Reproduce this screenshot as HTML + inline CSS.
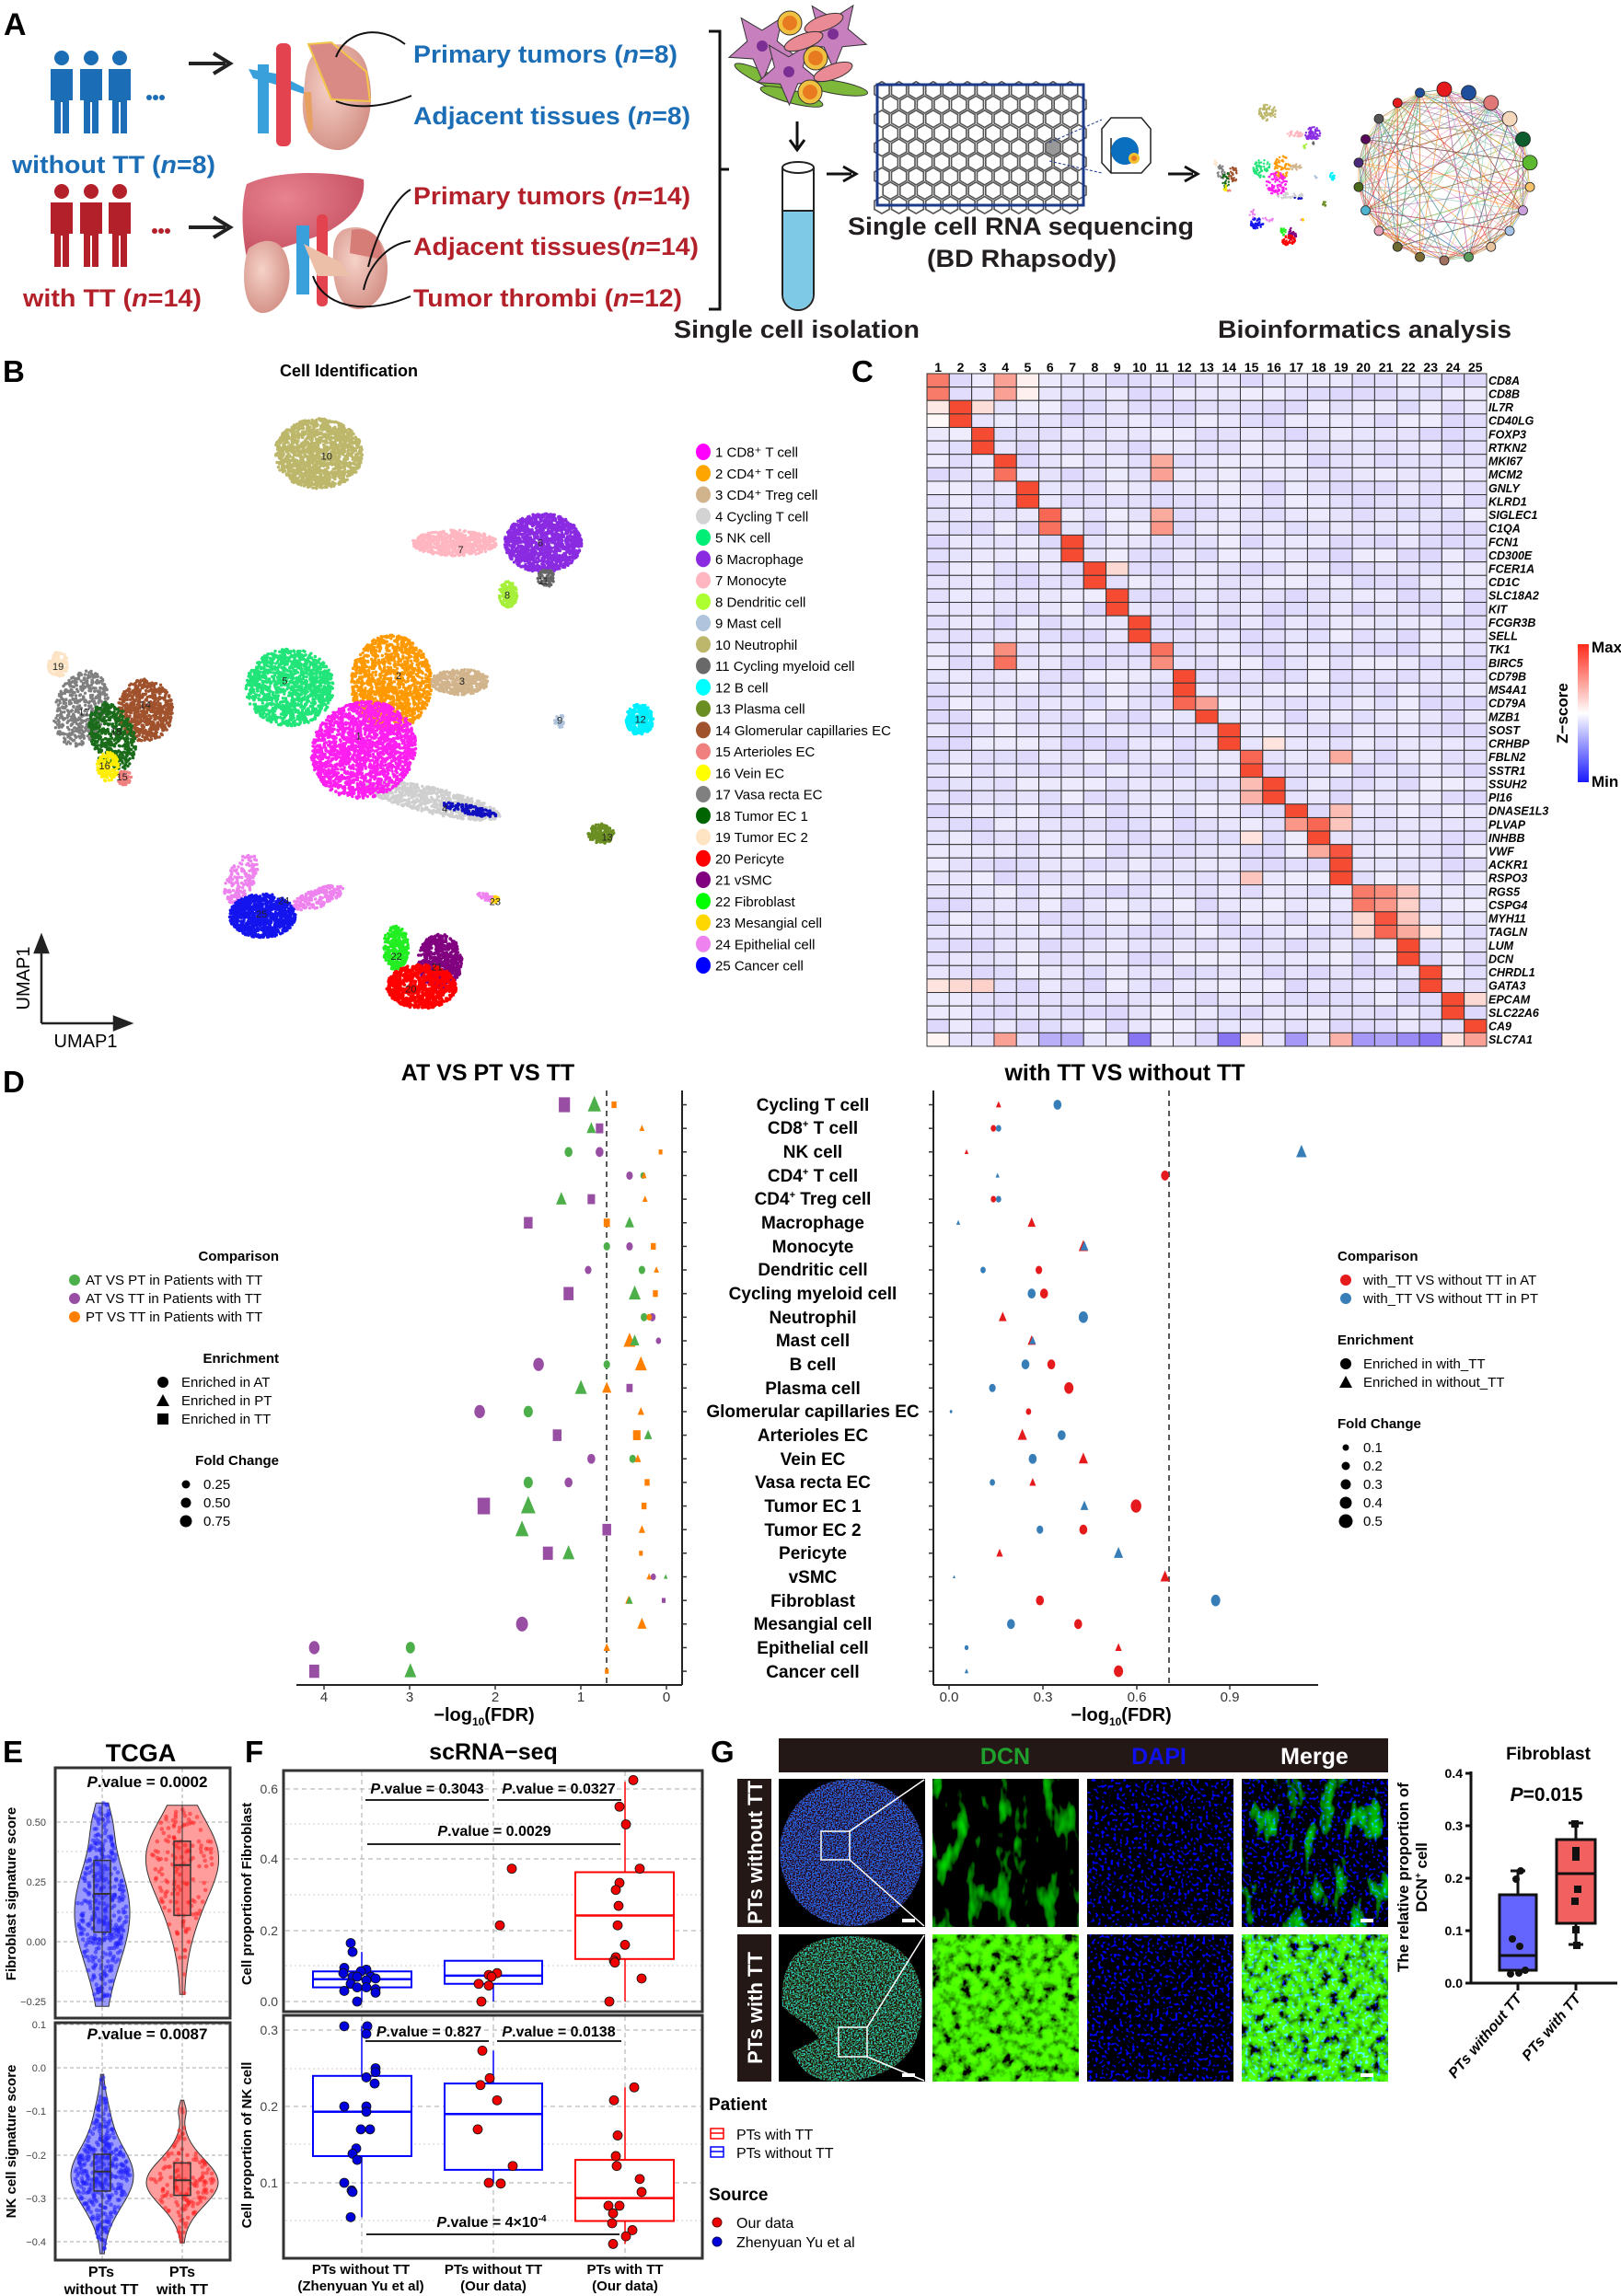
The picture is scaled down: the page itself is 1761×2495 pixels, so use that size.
<!DOCTYPE html>
<html><head><meta charset="utf-8"><style>
html,body{margin:0;padding:0;background:#fff}
svg{display:block;font-family:"Liberation Sans",Arial,sans-serif}
.b{font-weight:bold}
</style></head><body>
<svg id="s" xmlns="http://www.w3.org/2000/svg" width="1761" height="2495" viewBox="0 0 1761 2495">
<defs>
<filter id="fdapi" x="0" y="0" width="100%" height="100%"><feTurbulence type="fractalNoise" baseFrequency="0.3" numOctaves="1" seed="3"/><feColorMatrix type="matrix" values="0 0 0 0 0  0 0 0 0 0  9 0 0 0 -5.2  0 0 0 0 1"/></filter>
<filter id="fdcn1" x="0" y="0" width="100%" height="100%"><feTurbulence type="fractalNoise" baseFrequency="0.06 0.025" numOctaves="3" seed="5"/><feColorMatrix type="matrix" values="0 0 0 0 0  2.2 0 0 0 -1.25  0 0 0 0 0  0 0 0 0 1"/></filter>
<filter id="fdcn2" x="0" y="0" width="100%" height="100%"><feTurbulence type="fractalNoise" baseFrequency="0.09" numOctaves="3" seed="9"/><feColorMatrix type="matrix" values="0.2 0 0 0 -0.05  3.2 0 0 0 -0.85  0 0 0 0 0  0 0 0 0 1"/></filter>
<filter id="fm1" x="0" y="0" width="100%" height="100%"><feTurbulence type="fractalNoise" baseFrequency="0.3" numOctaves="1" seed="3" result="n1"/><feTurbulence type="fractalNoise" baseFrequency="0.06 0.025" numOctaves="3" seed="5" result="n2"/><feColorMatrix in="n1" type="matrix" values="0 0 0 0 0  0 0 0 0 0  9 0 0 0 -5.2  0 0 0 0 1" result="b"/><feColorMatrix in="n2" type="matrix" values="0 0 0 0 0  2.2 0 0 0 -1.25  0 0 0 0 0  0 0 0 0 1" result="g"/><feComposite in="b" in2="g" operator="arithmetic" k2="1" k3="1"/></filter>
<filter id="fm2" x="0" y="0" width="100%" height="100%"><feTurbulence type="fractalNoise" baseFrequency="0.3" numOctaves="1" seed="3" result="n1"/><feTurbulence type="fractalNoise" baseFrequency="0.09" numOctaves="3" seed="9" result="n2"/><feColorMatrix in="n1" type="matrix" values="0 0 0 0 0  0 0 0 0 0  9 0 0 0 -5.2  0 0 0 0 1" result="b"/><feColorMatrix in="n2" type="matrix" values="0.2 0 0 0 -0.05  3.2 0 0 0 -0.85  0 0 0 0 0  0 0 0 0 1" result="g"/><feComposite in="b" in2="g" operator="arithmetic" k2="1" k3="1"/></filter>
<filter id="fov1" x="0" y="0" width="100%" height="100%"><feTurbulence type="fractalNoise" baseFrequency="0.7" numOctaves="1" seed="2"/><feColorMatrix type="matrix" values="0 0 0 0 0.02  0.6 0 0 0 -0.25  4 0 0 0 -1.7  0 0 0 0 1"/></filter>
<filter id="fov2" x="0" y="0" width="100%" height="100%"><feTurbulence type="fractalNoise" baseFrequency="0.6" numOctaves="2" seed="4"/><feColorMatrix type="matrix" values="0 0 0 0 0.02  2.4 0 0 0 -1.05  2.5 0 0 0 -1.2  0 0 0 0 1"/></filter>
<clipPath id="c1"><ellipse cx="925" cy="2013" rx="78" ry="80"/></clipPath>
<clipPath id="c2"><path d="M925 2104 C990 2104 1005 2150 1001 2190 C997 2240 960 2262 905 2262 C870 2258 868 2240 860 2230 L890 2215 C880 2200 858 2190 850 2180 C846 2130 870 2104 925 2104Z"/></clipPath>
<linearGradient id="zb" x1="0" y1="0" x2="0" y2="1"><stop offset="0" stop-color="#ff2a1a"/><stop offset="0.5" stop-color="#ffffff"/><stop offset="1" stop-color="#1a1aff"/></linearGradient>
<radialGradient id="kid" cx="0.4" cy="0.4" r="0.7"><stop offset="0" stop-color="#f6d2c8"/><stop offset="1" stop-color="#d08a80"/></radialGradient>
<radialGradient id="liv" cx="0.35" cy="0.3" r="0.8"><stop offset="0" stop-color="#e8838f"/><stop offset="1" stop-color="#c24b5d"/></radialGradient>
</defs>
<rect width="1761" height="2495" fill="#fff"/>

<!-- ============ PANEL A ============ -->
<text x="4" y="38" class="b" font-size="34">A</text>
<g id="people"></g>
<path d="M205 69 H245 M232 58 L250 69 L232 80" stroke="#222" stroke-width="4" fill="none"/>
<path d="M205 247 H245 M232 236 L250 247 L232 258" stroke="#222" stroke-width="4" fill="none"/>
<path d="M280 70 L292 70 L292 145 L280 145Z M270 75 L300 80 L330 95 L330 102 L300 92 L275 85Z" fill="#3aa0dc"/>
<rect x="300" y="47" width="16" height="112" rx="6" fill="#e2434e"/>
<path d="M340 60 C360 40 395 45 400 80 C410 120 395 165 365 163 C335 160 325 130 330 100 C332 80 332 70 340 60Z" fill="url(#kid)"/>
<path d="M335 48 L360 46 L398 78 L402 110 L360 108 Z" fill="#d98a84" stroke="#f2c54a" stroke-width="2"/>
<path d="M330 100 L335 145 L340 140 L338 100Z" fill="#e8a060"/>
<path d="M365 62 C375 35 410 25 440 48" stroke="#111" stroke-width="2" fill="none"/>
<path d="M365 110 C390 120 420 115 447 104" stroke="#111" stroke-width="2" fill="none"/>
<path d="M268 200 C300 185 360 185 395 195 C398 220 380 240 350 255 C320 265 290 275 268 280 C262 250 262 220 268 200Z" fill="url(#liv)"/>
<path d="M270 270 C290 255 310 260 314 290 C318 320 300 342 283 340 C262 335 262 290 270 270Z" fill="url(#kid)"/>
<path d="M372 250 C395 240 420 255 421 290 C422 325 400 340 383 335 C365 330 360 300 362 275 C362 262 365 255 372 250Z" fill="url(#kid)"/>
<path d="M382 250 C400 245 418 258 415 282 L380 275Z" fill="#d77d78"/>
<rect x="322" y="245" width="14" height="75" fill="#3aa0dc"/>
<rect x="344" y="233" width="12" height="100" rx="5" fill="#e2434e"/>
<path d="M330 265 L345 300 L380 300 L370 285Z" fill="#ecc0a8"/>
<path d="M400 290 C410 250 430 215 446 206" stroke="#111" stroke-width="2" fill="none"/>
<path d="M395 315 C400 290 420 265 446 262" stroke="#111" stroke-width="2" fill="none"/>
<path d="M340 300 C350 330 390 345 446 322" stroke="#111" stroke-width="2" fill="none"/>
<g class="b" font-size="27">
<text x="449" y="68" fill="#1b6db5" textLength="287" lengthAdjust="spacingAndGlyphs">Primary tumors (<tspan font-style="italic">n</tspan>=8)</text>
<text x="449" y="135" fill="#1b6db5" textLength="301" lengthAdjust="spacingAndGlyphs">Adjacent tissues (<tspan font-style="italic">n</tspan>=8)</text>
<text x="13" y="188" fill="#1b6db5" textLength="221" lengthAdjust="spacingAndGlyphs">without TT (<tspan font-style="italic">n</tspan>=8)</text>
<text x="449" y="222" fill="#b3202a" textLength="301" lengthAdjust="spacingAndGlyphs">Primary tumors (<tspan font-style="italic">n</tspan>=14)</text>
<text x="449" y="277" fill="#b3202a" textLength="310" lengthAdjust="spacingAndGlyphs">Adjacent tissues(<tspan font-style="italic">n</tspan>=14)</text>
<text x="449" y="333" fill="#b3202a" textLength="292" lengthAdjust="spacingAndGlyphs">Tumor thrombi (<tspan font-style="italic">n</tspan>=12)</text>
<text x="25" y="333" fill="#b3202a" textLength="194" lengthAdjust="spacingAndGlyphs">with TT (<tspan font-style="italic">n</tspan>=14)</text>
<text x="732" y="367" fill="#231f20" textLength="267" lengthAdjust="spacingAndGlyphs">Single cell isolation</text>
<text x="921" y="255" fill="#231f20" textLength="376" lengthAdjust="spacingAndGlyphs">Single cell RNA sequencing</text>
<text x="1007" y="290" fill="#231f20" textLength="206" lengthAdjust="spacingAndGlyphs">(BD Rhapsody)</text>
<text x="1323" y="367" fill="#231f20" textLength="319" lengthAdjust="spacingAndGlyphs">Bioinformatics analysis</text>
</g>
<path d="M770 34 H782 V336 H770 M782 184 H792" stroke="#111" stroke-width="3" fill="none"/>
<g id="cells"></g>
<path d="M866 132 V160 M858 152 L866 163 L874 152" stroke="#111" stroke-width="3" fill="none"/>
<path d="M850 182 V320 A17 17 0 0 0 884 320 V182" fill="#fff" stroke="#222" stroke-width="2"/>
<path d="M851 229 H883 V320 A16 16 0 0 1 851 320Z" fill="#7ecae6"/>
<line x1="850" y1="229" x2="884" y2="229" stroke="#222" stroke-width="2"/>
<ellipse cx="867" cy="182" rx="17" ry="6" fill="#fff" stroke="#222" stroke-width="2"/>
<path d="M898 189 H925 M916 181 L930 189 L916 197" stroke="#111" stroke-width="3" fill="none"/>
<g id="grid"></g>
<rect x="953" y="92" width="224" height="131" fill="none" stroke="#1c3a8c" stroke-width="3"/>
<path d="M1140 155 L1197 130 M1140 175 L1197 188" stroke="#1c3a8c" stroke-dasharray="3 2"/>
<path d="M1197 140 L1207 128 L1240 128 L1250 140 L1250 177 L1240 188 L1207 188 L1197 177Z M1207 150 V188" fill="#fff" stroke="#222" stroke-width="1.5"/>
<circle cx="1222" cy="164" r="15" fill="#0b6fc0"/><circle cx="1232" cy="172" r="6" fill="#f2c230"/><circle cx="1232" cy="172" r="3" fill="#e87a20"/>
<path d="M1269 189 H1296 M1287 181 L1301 189 L1287 197" stroke="#111" stroke-width="3" fill="none"/>
<g id="mini"></g>
<g id="net"></g>

<!-- ============ PANEL B ============ -->
<text x="3" y="415" class="b" font-size="33">B</text>
<text x="379" y="409" class="b" font-size="18" text-anchor="middle">Cell Identification</text>
<g id="umap"></g>
<g id="umaplab" font-size="11" fill="#222" text-anchor="middle"></g>
<path d="M45 1112 V1025 M38 1035 L45 1017 L52 1035Z M45 1112 H132 M124 1105 L142 1112 L124 1119Z" stroke="#222" stroke-width="2.5" fill="#222"/>
<text transform="translate(32,1063) rotate(-90)" font-size="20" text-anchor="middle">UMAP1</text>
<text x="93" y="1138" font-size="20" text-anchor="middle">UMAP1</text>
<g id="leg" font-size="15"></g>

<!-- ============ PANEL C ============ -->
<text x="925" y="415" class="b" font-size="33">C</text>
<g id="heat"></g>
<g id="hcols" class="b" font-size="14" text-anchor="middle"></g>
<g id="hgenes" class="b" font-size="12.5" font-style="italic"></g>
<rect x="1714" y="700" width="12" height="150" fill="url(#zb)"/>
<text x="1729" y="709" class="b" font-size="17">Max</text>
<text x="1729" y="855" class="b" font-size="17">Min</text>
<text transform="translate(1703,775) rotate(-90)" class="b" font-size="17" text-anchor="middle">Z−score</text>

<!-- ============ PANEL D ============ -->
<text x="3" y="1187" class="b" font-size="33">D</text>
<text x="530" y="1174" class="b" font-size="25" text-anchor="middle">AT VS PT VS TT</text>
<text x="1222" y="1174" class="b" font-size="25" text-anchor="middle">with TT VS without TT</text>
<line x1="322" y1="1831" x2="741" y2="1831" stroke="#222" stroke-width="2"/>
<line x1="741" y1="1185" x2="741" y2="1831" stroke="#222" stroke-width="2"/>
<line x1="659" y1="1185" x2="659" y2="1831" stroke="#222" stroke-width="1.5" stroke-dasharray="6 5"/>
<line x1="1014" y1="1185" x2="1014" y2="1831" stroke="#222" stroke-width="2"/>
<line x1="1014" y1="1831" x2="1432" y2="1831" stroke="#222" stroke-width="2"/>
<line x1="1270" y1="1185" x2="1270" y2="1831" stroke="#222" stroke-width="1.5" stroke-dasharray="6 5"/>
<g font-size="15" text-anchor="middle" fill="#333">
<text x="352" y="1849">4</text><text x="445" y="1849">3</text><text x="538" y="1849">2</text><text x="631" y="1849">1</text><text x="724" y="1849">0</text>
<text x="1031" y="1849">0.0</text><text x="1133" y="1849">0.3</text><text x="1235" y="1849">0.6</text><text x="1336" y="1849">0.9</text>
</g>
<g id="ticksD" stroke="#333" stroke-width="1.5"></g>
<text x="526" y="1870" class="b" font-size="20" text-anchor="middle">−log<tspan font-size="12" dy="5">10</tspan><tspan dy="-5">(FDR)</tspan></text>
<text x="1218" y="1870" class="b" font-size="20" text-anchor="middle">−log<tspan font-size="12" dy="5">10</tspan><tspan dy="-5">(FDR)</tspan></text>
<g class="b" font-size="19" text-anchor="middle" id="rowlabs">
<text x="883" y="1207">Cycling T cell</text>
<text x="883" y="1232">CD8<tspan font-size="11" dy="-7">+</tspan><tspan dy="7"> T cell</tspan></text>
<text x="883" y="1258">NK cell</text>
<text x="883" y="1284">CD4<tspan font-size="11" dy="-7">+</tspan><tspan dy="7"> T cell</tspan></text>
<text x="883" y="1309">CD4<tspan font-size="11" dy="-7">+</tspan><tspan dy="7"> Treg cell</tspan></text>
<text x="883" y="1335">Macrophage</text>
<text x="883" y="1361">Monocyte</text>
<text x="883" y="1386">Dendritic cell</text>
<text x="883" y="1412">Cycling myeloid cell</text>
<text x="883" y="1438">Neutrophil</text>
<text x="883" y="1463">Mast cell</text>
<text x="883" y="1489">B cell</text>
<text x="883" y="1515">Plasma cell</text>
<text x="883" y="1540">Glomerular capillaries EC</text>
<text x="883" y="1566">Arterioles EC</text>
<text x="883" y="1592">Vein EC</text>
<text x="883" y="1617">Vasa recta EC</text>
<text x="883" y="1643">Tumor EC 1</text>
<text x="883" y="1669">Tumor EC 2</text>
<text x="883" y="1694">Pericyte</text>
<text x="883" y="1720">vSMC</text>
<text x="883" y="1746">Fibroblast</text>
<text x="883" y="1771">Mesangial cell</text>
<text x="883" y="1797">Epithelial cell</text>
<text x="883" y="1823">Cancer cell</text>
</g>
<g id="dots"></g>
<g font-size="15">
<text x="303" y="1370" class="b" text-anchor="end">Comparison</text>
<circle cx="81" cy="1391" r="6" fill="#4daf4a"/><text x="93" y="1396">AT VS  PT in Patients with TT</text>
<circle cx="81" cy="1411" r="6" fill="#984ea3"/><text x="93" y="1416">AT VS  TT in Patients with TT</text>
<circle cx="81" cy="1431" r="6" fill="#ff7f00"/><text x="93" y="1436">PT VS  TT in Patients with TT</text>
<text x="303" y="1481" class="b" text-anchor="end">Enrichment</text>
<circle cx="177" cy="1502" r="6"/><text x="197" y="1507">Enriched in AT</text>
<path d="M170 1528 L177 1515 L184 1528Z"/><text x="197" y="1527">Enriched in PT</text>
<rect x="171" y="1536" width="12" height="12"/><text x="197" y="1547">Enriched in TT</text>
<text x="303" y="1592" class="b" text-anchor="end">Fold Change</text>
<circle cx="202" cy="1613" r="4.5"/><text x="221" y="1618">0.25</text>
<circle cx="202" cy="1633" r="5.5"/><text x="221" y="1638">0.50</text>
<circle cx="202" cy="1653" r="6.5"/><text x="221" y="1658">0.75</text>
<text x="1453" y="1370" class="b">Comparison</text>
<circle cx="1462" cy="1391" r="6" fill="#e41a1c"/><text x="1481" y="1396">with_TT VS without TT in AT</text>
<circle cx="1462" cy="1411" r="6" fill="#377eb8"/><text x="1481" y="1416">with_TT VS without TT in PT</text>
<text x="1453" y="1461" class="b">Enrichment</text>
<circle cx="1462" cy="1482" r="6"/><text x="1481" y="1487">Enriched in with_TT</text>
<path d="M1455 1508 L1462 1495 L1469 1508Z"/><text x="1481" y="1507">Enriched in without_TT</text>
<text x="1453" y="1552" class="b">Fold Change</text>
<circle cx="1462" cy="1573" r="3.5"/><text x="1481" y="1578">0.1</text>
<circle cx="1462" cy="1593" r="4.5"/><text x="1481" y="1598">0.2</text>
<circle cx="1462" cy="1613" r="5.5"/><text x="1481" y="1618">0.3</text>
<circle cx="1462" cy="1633" r="6.5"/><text x="1481" y="1638">0.4</text>
<circle cx="1462" cy="1653" r="7.5"/><text x="1481" y="1658">0.5</text>
</g>

<!-- ============ PANEL E ============ -->
<text x="3" y="1915" class="b" font-size="33">E</text>
<text x="153" y="1914" class="b" font-size="27" text-anchor="middle">TCGA</text>
<g id="E"></g>
<rect x="60" y="1921" width="190" height="272" fill="none" stroke="#333" stroke-width="3"/>
<rect x="60" y="2198" width="190" height="258" fill="none" stroke="#333" stroke-width="3"/>
<text x="160" y="1942" class="b" font-size="17" text-anchor="middle"><tspan font-style="italic">P</tspan>.value = 0.0002</text>
<text x="160" y="2216" class="b" font-size="17" text-anchor="middle"><tspan font-style="italic">P</tspan>.value = 0.0087</text>
<g font-size="11" fill="#444" text-anchor="end">
<text x="50" y="1984">0.50</text><text x="50" y="2049">0.25</text><text x="50" y="2114">0.00</text><text x="50" y="2179">−0.25</text>
<text x="50" y="2204">0.1</text><text x="50" y="2251">0.0</text><text x="50" y="2298">−0.1</text><text x="50" y="2346">−0.2</text><text x="50" y="2393">−0.3</text><text x="50" y="2440">−0.4</text>
</g>
<text transform="translate(17,2058) rotate(-90)" class="b" font-size="15" text-anchor="middle">Fibroblast signature score</text>
<text transform="translate(17,2327) rotate(-90)" class="b" font-size="15" text-anchor="middle">NK cell signature score</text>
<g class="b" font-size="16" text-anchor="middle">
<text x="110" y="2474">PTs</text><text x="110" y="2493">without TT</text>
<text x="198" y="2474">PTs</text><text x="198" y="2493">with TT</text>
</g>

<!-- ============ PANEL F ============ -->
<text x="266" y="1915" class="b" font-size="33">F</text>
<text x="536" y="1912" class="b" font-size="25" text-anchor="middle">scRNA−seq</text>
<g id="F"></g>
<rect x="308" y="1924" width="455" height="262" fill="none" stroke="#333" stroke-width="3"/>
<rect x="308" y="2190" width="455" height="264" fill="none" stroke="#333" stroke-width="3"/>
<g font-size="14" fill="#444" text-anchor="end">
<text x="302" y="1949">0.6</text><text x="302" y="2025">0.4</text><text x="302" y="2103">0.2</text><text x="302" y="2180">0.0</text>
<text x="302" y="2211">0.3</text><text x="302" y="2294">0.2</text><text x="302" y="2377">0.1</text>
</g>
<text transform="translate(273,2058) rotate(-90)" class="b" font-size="15" text-anchor="middle">Cell proportionof Fibroblast</text>
<text transform="translate(273,2331) rotate(-90)" class="b" font-size="15" text-anchor="middle">Cell proportion of NK cell</text>
<g class="b" font-size="16" text-anchor="middle">
<text x="464" y="1949"><tspan font-style="italic">P</tspan>.value = 0.3043</text>
<text x="607" y="1949"><tspan font-style="italic">P</tspan>.value = 0.0327</text>
<text x="537" y="1995"><tspan font-style="italic">P</tspan>.value = 0.0029</text>
<text x="466" y="2213"><tspan font-style="italic">P</tspan>.value = 0.827</text>
<text x="607" y="2213"><tspan font-style="italic">P</tspan>.value = 0.0138</text>
<text x="534" y="2420"><tspan font-style="italic">P</tspan>.value = 4×10<tspan font-size="10" dy="-6">-4</tspan></text>
</g>
<g stroke="#222" stroke-width="2">
<line x1="397" y1="1956" x2="531" y2="1956"/><line x1="540" y1="1956" x2="675" y2="1956"/><line x1="399" y1="2004" x2="674" y2="2004"/>
<line x1="397" y1="2218" x2="531" y2="2218"/><line x1="540" y1="2218" x2="675" y2="2218"/><line x1="398" y1="2428" x2="673" y2="2428"/>
</g>
<g class="b" font-size="15" text-anchor="middle">
<text x="392" y="2471">PTs without TT</text><text x="392" y="2489">(Zhenyuan Yu et al)</text>
<text x="536" y="2471">PTs without TT</text><text x="536" y="2489">(Our data)</text>
<text x="679" y="2471">PTs with TT</text><text x="679" y="2489">(Our data)</text>
</g>
<g font-size="16">
<text x="770" y="2293" class="b" font-size="19">Patient</text>
<rect x="772" y="2313" width="14" height="11" fill="none" stroke="#f00" stroke-width="1.5"/><line x1="772" y1="2318" x2="786" y2="2318" stroke="#f00" stroke-width="1.5"/><text x="800" y="2325">PTs with TT</text>
<rect x="772" y="2333" width="14" height="11" fill="none" stroke="#00f" stroke-width="1.5"/><line x1="772" y1="2338" x2="786" y2="2338" stroke="#00f" stroke-width="1.5"/><text x="800" y="2345">PTs without TT</text>
<text x="770" y="2391" class="b" font-size="19">Source</text>
<circle cx="779" cy="2415" r="5" fill="#e00" stroke="#600"/><text x="800" y="2421">Our data</text>
<circle cx="779" cy="2436" r="5" fill="#00d" stroke="#006"/><text x="800" y="2442">Zhenyuan Yu et al</text>
</g>

<!-- ============ PANEL G ============ -->
<text x="772" y="1915" class="b" font-size="33">G</text>
<rect x="846" y="1889" width="662" height="37" fill="#231815"/>
<text x="1092" y="1917" class="b" font-size="25" fill="#1fa02d" text-anchor="middle">DCN</text>
<text x="1259" y="1917" class="b" font-size="25" fill="#1010ee" text-anchor="middle">DAPI</text>
<text x="1428" y="1917" class="b" font-size="25" fill="#fff" text-anchor="middle">Merge</text>
<rect x="801" y="1933" width="37" height="161" fill="#231815"/>
<rect x="801" y="2102" width="37" height="160" fill="#231815"/>
<text transform="translate(828,2013) rotate(-90)" class="b" font-size="22" fill="#fff" text-anchor="middle">PTs without TT</text>
<text transform="translate(828,2182) rotate(-90)" class="b" font-size="22" fill="#fff" text-anchor="middle">PTs with TT</text>
<rect x="846" y="1933" width="159" height="161" fill="#000"/>
<rect x="846" y="2102" width="159" height="160" fill="#000"/>
<rect x="846" y="1933" width="159" height="161" filter="url(#fov1)" clip-path="url(#c1)"/>
<rect x="846" y="2102" width="159" height="160" filter="url(#fov2)" clip-path="url(#c2)"/>
<rect x="1013" y="1933" width="159" height="161" filter="url(#fdcn1)"/>
<rect x="1181" y="1933" width="159" height="161" filter="url(#fdapi)"/>
<rect x="1349" y="1933" width="159" height="161" filter="url(#fm1)"/>
<rect x="1013" y="2102" width="159" height="160" filter="url(#fdcn2)"/>
<rect x="1181" y="2102" width="159" height="160" filter="url(#fdapi)"/>
<rect x="1349" y="2102" width="159" height="160" filter="url(#fm2)"/>
<g stroke="#fff" fill="none" stroke-width="1.5">
<rect x="892" y="1990" width="31" height="31"/><line x1="923" y1="1990" x2="1004" y2="1934"/><line x1="923" y1="2021" x2="1004" y2="2093"/>
<rect x="911" y="2203" width="31" height="32"/><line x1="942" y1="2203" x2="1004" y2="2103"/><line x1="942" y1="2235" x2="1004" y2="2261"/>
</g>
<g fill="#fff"><rect x="980" y="2085" width="14" height="4"/><rect x="1478" y="2085" width="14" height="4"/><rect x="980" y="2253" width="14" height="4"/><rect x="1478" y="2253" width="14" height="4"/></g>
<text x="1682" y="1912" class="b" font-size="19" text-anchor="middle">Fibroblast</text>
<text x="1680" y="1957" class="b" font-size="21" text-anchor="middle"><tspan font-style="italic">P</tspan>=0.015</text>
<g stroke="#111" stroke-width="3" fill="none">
<line x1="1598" y1="1925" x2="1598" y2="2155"/><line x1="1598" y1="2155" x2="1757" y2="2155"/>
<line x1="1592" y1="1927" x2="1598" y2="1927"/><line x1="1592" y1="1984" x2="1598" y2="1984"/><line x1="1592" y1="2041" x2="1598" y2="2041"/><line x1="1592" y1="2098" x2="1598" y2="2098"/><line x1="1592" y1="2155" x2="1598" y2="2155"/>
<line x1="1649" y1="2155" x2="1649" y2="2163"/><line x1="1712" y1="2155" x2="1712" y2="2163"/>
<line x1="1649" y1="2033" x2="1649" y2="2059"/><line x1="1641" y1="2033" x2="1657" y2="2033"/><line x1="1649" y1="2141" x2="1649" y2="2147"/>
<line x1="1712" y1="1981" x2="1712" y2="1999"/><line x1="1704" y1="1981" x2="1720" y2="1981"/><line x1="1712" y1="2090" x2="1712" y2="2113"/><line x1="1704" y1="2113" x2="1720" y2="2113"/>
</g>
<rect x="1629" y="2059" width="40" height="82" fill="#6464ff" stroke="#111" stroke-width="3"/>
<line x1="1629" y1="2125" x2="1669" y2="2125" stroke="#111" stroke-width="3"/>
<rect x="1691" y="1999" width="42" height="91" fill="#f36060" stroke="#111" stroke-width="3"/>
<line x1="1691" y1="2036" x2="1733" y2="2036" stroke="#111" stroke-width="3"/>
<g fill="#111"><circle cx="1647" cy="2042" r="4"/><circle cx="1652" cy="2033" r="4"/><circle cx="1643" cy="2107" r="4"/><circle cx="1651" cy="2115" r="4"/><circle cx="1641" cy="2145" r="4"/><circle cx="1650" cy="2144" r="4"/><circle cx="1657" cy="2141" r="4"/>
<rect x="1707" y="1978" width="8" height="8"/><rect x="1708" y="2007" width="8" height="8"/><rect x="1708" y="2014" width="8" height="8"/><rect x="1710" y="2049" width="8" height="8"/><rect x="1707" y="2062" width="8" height="8"/><rect x="1708" y="2093" width="8" height="8"/><rect x="1709" y="2110" width="8" height="8"/></g>
<g class="b" font-size="14" text-anchor="end">
<text x="1589" y="1932">0.4</text><text x="1589" y="1989">0.3</text><text x="1589" y="2046">0.2</text><text x="1589" y="2103">0.1</text><text x="1589" y="2160">0.0</text>
</g>
<text transform="translate(1530,2040) rotate(-90)" class="b" font-size="17" text-anchor="middle">The relative proportion of</text>
<text transform="translate(1550,2040) rotate(-90)" class="b" font-size="17" text-anchor="middle">DCN<tspan font-size="10" dy="-6">+</tspan><tspan dy="6"> cell</tspan></text>
<text transform="translate(1654,2172) rotate(-50)" class="b" font-size="16" font-style="italic" text-anchor="end">PTs without TT</text>
<text transform="translate(1718,2172) rotate(-50)" class="b" font-size="16" font-style="italic" text-anchor="end">PTs with TT</text>
</svg>
<script>
(function(){
var NS='http://www.w3.org/2000/svg';
function el(t,a,p){var e=document.createElementNS(NS,t);for(var k in a)e.setAttribute(k,a[k]);p.appendChild(e);return e;}
function g(id){return document.getElementById(id);}
var seed=12345;function rnd(){seed=(seed*16807)%2147483647;return (seed-1)/2147483646;}
var P=g('people');
function person(x,y,c){el('circle',{cx:x,cy:y,r:8,fill:c},P);el('path',{d:'M'+(x-12)+' '+(y+12)+' h24 v34 h-4 v36 h-7 v-34 h-2 v34 h-7 v-36 h-4z',fill:c},P);}
[[67,63],[99,63],[130,63]].forEach(function(p){person(p[0],p[1],'#1b6db5');});
[[67,208],[99,208],[130,208]].forEach(function(p){person(p[0],p[1],'#b3202a');});
for(var i=0;i<3;i++){el('circle',{cx:162+i*7,cy:106,r:3,fill:'#1b6db5'},P);el('circle',{cx:168+i*7,cy:251,r:3,fill:'#b3202a'},P);}
var C=g('cells');
function star(x,y,r,c){var d='';for(var i=0;i<10;i++){var a=i*Math.PI/5+0.3,rr=i%2?r*0.45:r;d+=(i?'L':'M')+(x+rr*Math.cos(a)).toFixed(1)+' '+(y+rr*Math.sin(a)).toFixed(1);}el('path',{d:d+'Z',fill:'#c77fbe',stroke:'#333','stroke-width':1},C);el('circle',{cx:x,cy:y,r:6,fill:'#7b2f94'},C);}
el('ellipse',{cx:830,cy:85,rx:35,ry:7,transform:'rotate(25 830 85)',fill:'#7db83a',stroke:'#333'},C);
el('ellipse',{cx:860,cy:105,rx:35,ry:7,transform:'rotate(15 860 105)',fill:'#7db83a',stroke:'#333'},C);
el('ellipse',{cx:908,cy:95,rx:35,ry:7,transform:'rotate(10 908 95)',fill:'#7db83a',stroke:'#333'},C);
star(828,50,38,0);star(857,78,36,0);star(905,37,38,0);
[[858,25],[886,63],[880,100]].forEach(function(p){el('circle',{cx:p[0],cy:p[1],r:13,fill:'#f0c040',stroke:'#333'},C);el('circle',{cx:p[0],cy:p[1],r:8,fill:'#e87a20'},C);});
[[895,25],[873,45],[905,78]].forEach(function(p){el('ellipse',{cx:p[0],cy:p[1],rx:22,ry:8,transform:'rotate(-20 '+p[0]+' '+p[1]+')',fill:'#ea8a94',stroke:'#333'},C);});
[[858,245,'#e33'],[870,260,'#e33'],[873,277,'#5b5'],[863,298,'#e33'],[875,315,'#5b5'],[878,240,'#a4a'],[861,275,'#a4a']].forEach(function(p){el('ellipse',{cx:p[0],cy:p[1],rx:2,ry:5,transform:'rotate(25 '+p[0]+' '+p[1]+')',fill:p[2]},C);});
var G=g('grid');
el('rect',{x:953,y:92,width:224,height:131,fill:'#fff'},G);
var hs=9.3;
for(var r=0;r<9;r++)for(var c=0;c<13;c++){var cx=958+c*18.6+(r%2?9.3:0),cy=98+r*15.6;var d='';for(var k=0;k<6;k++){var a=Math.PI/6+k*Math.PI/3;d+=(k?'L':'M')+(cx+hs*Math.cos(a)).toFixed(1)+' '+(cy+hs*Math.sin(a)).toFixed(1);}
if(cx>1180)continue;el('path',{d:d+'Z',fill:(r==4&&c==10)?'#999':'#fff',stroke:'#555','stroke-width':1.6},G);}
var blobs=[
[346,493,48,38,'#bdb76b',1500,0],
[590,590,42,32,'#8a2be2',1300,0],[494,590,46,14,'#ffb6c1',600,0],[552,646,10,14,'#a6ef3a',150,0],[593,628,9,10,'#666',60,0],
[315,747,48,42,'#22e57a',1300,0],[425,742,44,52,'#ff9900',1400,0],[500,741,32,14,'#d2b48c',400,0],
[470,870,75,14,'#cfcfcf',700,0.22],[510,880,30,5,'#1010c0',120,0.2],
[395,815,58,52,'#ff1ff0',2000,-0.4],
[63,722,11,14,'#fbe3c4',120,0],[88,770,28,42,'#808080',500,0.3],[158,772,30,34,'#a0522d',700,0],[122,800,24,38,'#1a6b1a',500,-0.3],[117,833,12,16,'#ffee00',150,0],[135,845,8,8,'#f08080',60,0],
[608,783,6,8,'#b0c4de',25,0],[695,782,15,17,'#00f0ff',300,0],[653,906,14,11,'#6b8e23',150,0],
[262,955,15,30,'#ee82ee',180,0.5],[345,976,30,10,'#ee82ee',200,-0.35],[285,995,36,24,'#1414ee',1000,0],
[528,975,10,4,'#ee82ee',30,0.4],[538,978,4,4,'#ffd000',15,0],
[430,1030,14,24,'#22ee22',300,0],[478,1045,24,30,'#800080',700,0],[458,1072,38,24,'#ff0000',900,0]];
var U=g('umap');
blobs.forEach(function(b){var ca=Math.cos(b[6]),sa=Math.sin(b[6]);for(var i=0;i<b[5];i++){var a=rnd()*6.283,rr=Math.sqrt(rnd());var dx=b[2]*rr*Math.cos(a),dy=b[3]*rr*Math.sin(a);el('circle',{cx:(b[0]+dx*ca-dy*sa).toFixed(1),cy:(b[1]+dx*sa+dy*ca).toFixed(1),r:1.7,fill:b[4]},U);}});
var L=g('umaplab');
[['10',562,238],['6',930,432],['7',793,448],['8',873,550],['11',935,518],['5',490,742],['2',686,730],['3',795,743],['1',617,865],['4',765,1028],['19',100,710],['17',145,812],['14',250,795],['18',200,855],['16',180,932],['15',210,957],['9',963,830],['12',1102,828],['13',1045,1092],['24',488,1235],['25',450,1265],['23',852,1237],['22',682,1360],['21',752,1383],['20',707,1433]].forEach(function(p){var t=el('text',{x:(p[1]/1.584).toFixed(1),y:(p[2]/2.063+380+4).toFixed(1)},L);t.textContent=p[0];});
var M=g('mini');
blobs.forEach(function(b){var n=Math.max(4,b[5]/20);for(var i=0;i<n;i++){var a=rnd()*6.283,rr=Math.sqrt(rnd());el('circle',{cx:(1318+(b[0]-50+b[2]*rr*Math.cos(a))*0.2).toFixed(1),cy:(112+(b[1]-450+b[3]*rr*Math.sin(a))*0.24).toFixed(1),r:1.2,fill:b[4]},M);}});
var N=g('net');var ncol=['#e41a1c','#377eb8','#4daf4a','#984ea3','#ff7f00','#e6c84a','#a65628','#f781bf','#999','#66c2a5'];
var nodes=[];for(var i=0;i<22;i++){var a=-Math.PI/2+i*2*Math.PI/22;nodes.push([1569+94*Math.cos(a),190+93*Math.sin(a)]);}
for(var i=0;i<260;i++){var a=nodes[Math.floor(rnd()*22)],b=nodes[Math.floor(rnd()*22)];el('line',{x1:a[0],y1:a[1],x2:b[0],y2:b[1],stroke:ncol[i%10],'stroke-width':0.8,opacity:0.6},N);}
var nc=['#e41a1c','#1f4e9c','#e07878','#f5d8bc','#0d5c2e','#5cb82e','#f7c16b','#c9a0dc','#a7c4e8','#e8c29c','#5a9a5a','#a07060','#7a6a30','#6a6a30','#e8a0b8','#4fb4d0','#4a6a1a','#4a2a7a','#5a0a5a','#555'];
nodes.forEach(function(p,i){el('circle',{cx:p[0],cy:p[1],r:(i<6?8:5),fill:nc[i%20],stroke:'#222','stroke-width':0.8},N);});
var LG=g('leg');var names=['1 CD8⁺ T cell','2 CD4⁺ T cell','3 CD4⁺ Treg cell','4 Cycling T cell','5 NK cell','6 Macrophage','7 Monocyte','8 Dendritic cell','9 Mast cell','10 Neutrophil','11 Cycling myeloid cell','12 B cell','13 Plasma cell','14 Glomerular capillaries EC','15 Arterioles EC','16 Vein EC','17 Vasa recta EC','18 Tumor EC 1','19 Tumor EC 2','20 Pericyte','21 vSMC','22 Fibroblast','23 Mesangial cell','24 Epithelial cell','25 Cancer cell'];
var lc=['#ff00ff','#ffa500','#d2b48c','#d3d3d3','#00ee76','#8a2be2','#ffb6c1','#adff2f','#b0c4de','#bdb76b','#696969','#00ffff','#6b8e23','#a0522d','#f08080','#ffff00','#808080','#006400','#ffe4c4','#ff0000','#800080','#00ff00','#ffd700','#ee82ee','#0000ff'];
names.forEach(function(n,i){var y=491+i*23.25;el('ellipse',{cx:764,cy:y,rx:8,ry:9,fill:lc[i]},LG);var t=el('text',{x:777,y:y+5.5},LG);t.textContent=n;});
var H=g('heat'),HC=g('hcols'),HG=g('hgenes');
var genes=['CD8A','CD8B','IL7R','CD40LG','FOXP3','RTKN2','MKI67','MCM2','GNLY','KLRD1','SIGLEC1','C1QA','FCN1','CD300E','FCER1A','CD1C','SLC18A2','KIT','FCGR3B','SELL','TK1','BIRC5','CD79B','MS4A1','CD79A','MZB1','SOST','CRHBP','FBLN2','SSTR1','SSUH2','PI16','DNASE1L3','PLVAP','INHBB','VWF','ACKR1','RSPO3','RGS5','CSPG4','MYH11','TAGLN','LUM','DCN','CHRDL1','GATA3','EPCAM','SLC22A6','CA9','SLC7A1'];
var main=[0,0,1,1,2,2,3,3,4,4,5,5,6,6,7,7,8,8,9,9,10,10,11,11,11,12,13,13,14,14,15,15,16,17,17,18,18,18,19,19,20,20,21,21,22,22,23,23,24,-1];
var ex={0:{0:.7,3:.5,4:.08},1:{0:.7,3:.5,4:.08},2:{0:.12,2:.18},3:{0:.03},6:{10:.45},7:{10:.5,3:.75},10:{5:.8,10:.45},11:{5:.75,10:.55},14:{8:.2},20:{3:.6,10:.75},21:{3:.75,10:.6},24:{11:.8,12:.5},27:{15:.15},28:{14:.8,18:.45},30:{14:.35},31:{14:.4},32:{18:.35},33:{17:.8,16:.55,18:.3},34:{17:.95,14:.15},35:{18:.9,17:.45},37:{14:.3},38:{19:.7,20:.6,21:.3},39:{19:.7,20:.55,21:.25},40:{20:.9,19:.2,21:.3},41:{20:.8,21:.45,19:.2,22:.15},45:{0:.15,1:.2,2:.25},46:{24:.2},49:{0:.05,3:.5,9:-.6,13:-.6,22:-.6,24:.5,5:-.35,6:-.35,16:-.45,19:-.45,20:-.4,21:-.5,14:.15,18:.4,23:.15}};
function col(v){var r,gg,b;if(v>=0){r=255-10*v;gg=255-190*v;b=255-215*v;}else{var t=-v;r=255-200*t;gg=255-230*t;b=255-20*t;}return 'rgb('+Math.round(r)+','+Math.round(gg)+','+Math.round(b)+')';}
var x0=1007,y0=406,cw=24.32,rh=14.62;
for(var r=0;r<50;r++){for(var c=0;c<25;c++){var v=-0.08-0.09*rnd();if(main[r]==c)v=0.95;if(ex[r]&&ex[r][c]!==undefined)v=ex[r][c];el('rect',{x:(x0+c*cw).toFixed(2),y:(y0+r*rh).toFixed(2),width:cw.toFixed(2),height:rh.toFixed(2),fill:col(v),stroke:'#333','stroke-width':1},H);}
var t=el('text',{x:1617,y:(y0+r*rh+rh/2+4.5).toFixed(1)},HG);t.textContent=genes[r];}
for(var c=0;c<25;c++){var t=el('text',{x:(x0+c*cw+cw/2).toFixed(1),y:404},HC);t.textContent=c+1;}
var TD=g('ticksD');[352,445,538,631,724,1031,1133,1235,1336].forEach(function(x){el('line',{x1:x,y1:1831,x2:x,y2:1836},TD);});
for(var i=0;i<25;i++){var y=1200.5+i*25.65;el('line',{x1:741,y1:y,x2:746,y2:y},TD);el('line',{x1:1009,y1:y,x2:1014,y2:y},TD);}
var D=g('dots');var CC={G:'#4daf4a',P:'#984ea3',O:'#ff7f00',R:'#e41a1c',B:'#377eb8'};
function shp(x,y,s,c,r){if(s=='c')el('ellipse',{cx:x,cy:y,rx:r*0.8,ry:r,fill:c},D);else if(s=='t')el('path',{d:'M'+(x-r*0.8)+' '+(y+r*0.8)+' L'+x+' '+(y-r*1.1)+' L'+(x+r*0.8)+' '+(y+r*0.8)+'Z',fill:c},D);else el('rect',{x:x-r*0.75,y:y-r,width:r*1.5,height:r*2,fill:c},D);}
var left=[[[546,'P','s',9],[575,'G','t',10],[594,'O','s',4]],[[580,'P','s',6],[572,'G','t',7],[621,'O','t',4]],[[550,'G','c',6],[580,'P','c',6],[639,'O','s',3]],[[609,'P','c',5],[622,'G','c',4],[623,'O','t',4]],[[543,'G','t',8],[572,'P','s',6],[624,'O','t',4]],[[511,'P','s',7],[587,'O','s',5],[609,'G','t',7]],[[587,'G','c',5],[609,'P','c',5],[632,'O','s',4]],[[569,'P','c',5],[621,'G','c',5],[635,'O','t',4]],[[550,'P','s',8],[614,'G','t',9],[634,'O','s',4]],[[623,'G','c',5],[631,'P','c',5],[628,'O','c',4]],[[609,'O','t',9],[614,'G','t',7],[637,'P','c',4]],[[521,'P','c',8],[587,'G','c',5],[620,'O','t',9]],[[562,'G','t',9],[587,'O','t',7],[609,'P','s',5]],[[464,'P','c',8],[511,'G','c',7],[620,'O','t',5]],[[539,'P','s',7],[616,'O','s',6],[627,'G','t',6]],[[572,'P','c',6],[612,'G','c',5],[617,'O','t',5]],[[511,'G','c',7],[550,'P','c',6],[626,'O','s',4]],[[468,'P','s',10],[511,'G','t',11],[623,'O','s',4]],[[505,'G','t',10],[587,'P','s',7],[621,'O','t',5]],[[530,'P','s',8],[550,'G','t',9],[620,'O','s',3]],[[628,'O','t',4],[632,'P','c',4],[644,'G','t',3]],[[608,'O','t',5],[609,'G','t',5],[642,'P','s',3]],[[505,'P','c',9],[621,'O','t',7]],[[304,'P','c',8],[397,'G','c',7],[587,'O','t',5]],[[304,'P','s',8],[397,'G','t',9],[587,'O','s',3]]];
var right=[[[966,'R','t',4],[1023,'B','c',6]],[[961,'R','c',4],[966,'B','c',4]],[[935,'R','t',3],[1259,'B','t',8]],[[965,'B','t',3],[1127,'R','c',6]],[[961,'R','c',4],[966,'B','c',4]],[[927,'B','t',3],[998,'R','t',6]],[[1048,'R','t',7],[1049,'B','t',6]],[[951,'B','c',4],[1005,'R','c',5]],[[998,'B','c',6],[1010,'R','c',6]],[[970,'R','t',6],[1048,'B','c',7]],[[998,'R','t',6],[999,'B','t',5]],[[992,'B','c',6],[1017,'R','c',6]],[[960,'B','c',5],[1034,'R','c',7]],[[920,'B','c',2],[995,'R','c',4]],[[989,'R','t',7],[1027,'B','c',6]],[[999,'B','c',6],[1048,'R','t',7]],[[960,'B','c',4],[999,'R','t',5]],[[1049,'B','t',6],[1099,'R','c',8]],[[1006,'B','c',5],[1048,'R','c',6]],[[967,'R','t',5],[1082,'B','t',7]],[[923,'B','t',2],[1127,'R','t',7]],[[1006,'R','c',6],[1176,'B','c',7]],[[978,'B','c',6],[1043,'R','c',6]],[[935,'B','c',3],[1082,'R','t',5]],[[935,'B','t',3],[1082,'R','c',7]]];
[left,right].forEach(function(set){set.forEach(function(row,i){var y=1200.5+i*25.65;row.forEach(function(p){shp(p[0]*1.123,y,p[2],CC[p[1]],p[3]*0.9);});});});
var E=g('E');
[1980,2045,2110,2175].forEach(function(y){el('line',{x1:62,y1:y,x2:248,y2:y,stroke:'#aaa','stroke-dasharray':'4 3'},E);});
[2012,2078,2142].forEach(function(y){el('line',{x1:62,y1:y,x2:248,y2:y,stroke:'#ccc','stroke-dasharray':'2 3'},E);});
[2200,2247,2294,2342,2389,2436].forEach(function(y){el('line',{x1:62,y1:y,x2:248,y2:y,stroke:'#aaa','stroke-dasharray':'4 3'},E);});
[111,198].forEach(function(x){el('line',{x1:x,y1:1922,x2:x,y2:2192,stroke:'#aaa','stroke-dasharray':'4 3'},E);el('line',{x1:x,y1:2199,x2:x,y2:2455,stroke:'#aaa','stroke-dasharray':'4 3'},E);});
function violin(cx,yf,lo,hi,fn,fill,stroke,npts,box){var pts=[],n=60;for(var i=0;i<=n;i++){var v=lo+(hi-lo)*i/n;pts.push([v,fn(v)]);}
var d='';pts.forEach(function(p,i){d+=(i?'L':'M')+(cx+p[1]).toFixed(1)+' '+yf(p[0]).toFixed(1);});for(var i=n;i>=0;i--){d+='L'+(cx-pts[i][1]).toFixed(1)+' '+yf(pts[i][0]).toFixed(1);}
el('path',{d:d+'Z',fill:fill,'fill-opacity':0.55,stroke:'#333','stroke-width':1},E);
for(var k=0;k<npts;k++){var v,w;do{v=lo+(hi-lo)*rnd();w=fn(v);}while(rnd()*40>w);el('circle',{cx:(cx+(rnd()*2-1)*w*0.9).toFixed(1),cy:yf(v).toFixed(1),r:2.3,fill:stroke,'fill-opacity':0.55},E);}
el('line',{x1:cx,y1:yf(hi),x2:cx,y2:yf(lo),stroke:'#333'},E);
el('rect',{x:cx-9,y:yf(box[2]),width:18,height:yf(box[0])-yf(box[2]),fill:stroke,'fill-opacity':0.35,stroke:'#333','stroke-width':1.5},E);
el('line',{x1:cx-9,y1:yf(box[1]),x2:cx+9,y2:yf(box[1]),stroke:'#333','stroke-width':2},E);}
function gau(v,m,s){return Math.exp(-Math.pow((v-m)/s,2));}
var yt=function(v){return 2110-260*v;},yb=function(v){return 2247-470*v;};
violin(111,yt,-0.27,0.58,function(v){return 2+28*gau(v,0.12,0.3)+4*gau(v,0.5,0.1);},'#4646ff','#2020ff',380,[0.04,0.2,0.34]);
violin(198,yt,-0.22,0.57,function(v){return 2+36*gau(v,0.36,0.22)+8*gau(v,0.1,0.2);},'#ff4a4a','#ff2020',150,[0.11,0.32,0.42]);
violin(111,yb,-0.43,-0.015,function(v){return 1+33*gau(v,-0.25,0.1)+4*gau(v,-0.1,0.06);},'#4646ff','#2020ff',380,[-0.285,-0.24,-0.2]);
violin(198,yb,-0.405,-0.075,function(v){return 1+38*gau(v,-0.265,0.075)+3*gau(v,-0.1,0.02);},'#ff4a4a','#ff2020',150,[-0.295,-0.26,-0.22]);
var F=g('F');
[1944,2020,2098,2175,2206,2289,2372].forEach(function(y){el('line',{x1:310,y1:y,x2:761,y2:y,stroke:'#aaa','stroke-dasharray':'5 4'},F);});
[1982,2059,2136,2248,2330,2413].forEach(function(y){el('line',{x1:310,y1:y,x2:761,y2:y,stroke:'#ccc','stroke-dasharray':'2 3'},F);});
[393,536,679].forEach(function(x){el('line',{x1:x,y1:1925,x2:x,y2:2185,stroke:'#aaa','stroke-dasharray':'5 4'},F);el('line',{x1:x,y1:2191,x2:x,y2:2453,stroke:'#aaa','stroke-dasharray':'5 4'},F);});
var ft=function(v){return 2175-385*v;},fb=function(v){return 2455-830*v;};
function bx(cx,x1,x2,yf,q1,md,q3,wl,wh,c){el('line',{x1:cx,y1:yf(wh),x2:cx,y2:yf(wl),stroke:c,'stroke-width':1.5},F);el('rect',{x:x1,y:yf(q3),width:x2-x1,height:yf(q1)-yf(q3),fill:'#fff',stroke:c,'stroke-width':2},F);el('line',{x1:x1,y1:yf(md),x2:x2,y2:yf(md),stroke:c,'stroke-width':2.5},F);}
bx(393,340,447,ft,.04,.063,.085,0,.14,'#0000ff');bx(536,483,589,ft,.05,.073,.115,0,.115,'#0000ff');bx(679,625,732,ft,.12,.243,.365,0,.62,'#ff0000');
bx(393,340,447,fb,.135,.193,.24,.055,.305,'#0000ff');bx(536,483,589,fb,.117,.19,.23,.1,.273,'#0000ff');bx(679,625,732,fb,.05,.08,.13,.02,.225,'#ff0000');
function pts(cx,yf,arr,c){arr.forEach(function(p){el('circle',{cx:cx+p[1],cy:yf(p[0]),r:5,fill:c,stroke:'#111','stroke-width':0.8},F);});}
pts(393,ft,[[.165,-12],[.14,-10],[.095,-19],[.09,5],[.085,-1],[.08,-20],[.07,-10],[.07,-5],[.07,10],[.065,15],[.06,5],[.05,-12],[.04,5],[.04,-5],[.03,-19],[.035,15],[.025,15],[0,-5]],'#0000dd');
pts(536,ft,[[.375,20],[.215,7],[.08,4],[.075,-5],[.07,-2],[.05,-16],[.045,-5],[0,-13]],'#ee0000');
pts(679,ft,[[.625,9],[.55,-6],[.5,1],[.375,16],[.335,-6],[.315,-10],[.27,-7],[.215,-8],[.16,0],[.125,-10],[.115,-12],[.11,-11],[.065,18],[0,-17]],'#ee0000');
pts(393,fb,[[.305,-19],[.305,6],[.295,5],[.25,15],[.245,15],[.238,5],[.23,14],[.2,-19],[.2,5],[.193,5],[.17,-1],[.17,9],[.145,-6],[.138,-10],[.13,-5],[.1,-19],[.09,-11],[.088,-10],[.055,-12]],'#0000dd');
pts(536,fb,[[.273,-12],[.237,-4],[.228,-14],[.208,4],[.17,-17],[.122,21],[.1,-5],[.099,8]],'#ee0000');
pts(679,fb,[[.225,10],[.208,-12],[.162,-8],[.135,-10],[.122,-9],[.105,16],[.088,18],[.07,-18],[.07,-6],[.06,-13],[.047,-14],[.038,8],[.03,1],[.02,-13]],'#ee0000');
})();
</script>
</body></html>
